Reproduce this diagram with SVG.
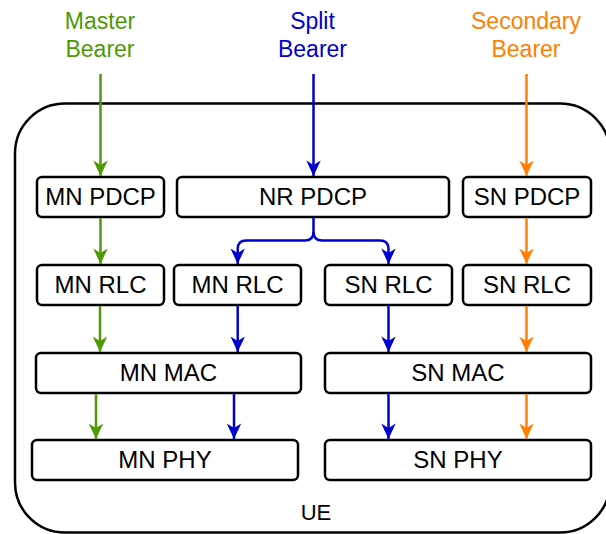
<svg xmlns="http://www.w3.org/2000/svg" width="606" height="534" viewBox="0 0 606 534">
<style>
.node rect{fill:#fff;stroke:#000;stroke-width:2.5}
.node text{font-family:"Liberation Sans",Arial,sans-serif;font-size:24px;text-anchor:middle;fill:#000}
.lbl{font-family:"Liberation Sans",Arial,sans-serif;font-size:23px;text-anchor:middle}
.c{fill:none;stroke-width:2.5}
.g{stroke:#4e9a06}
.b{stroke:#0000cc}
.o{stroke:#ff8000}
</style>
<defs>
<marker id="ag" markerUnits="userSpaceOnUse" markerWidth="20" markerHeight="20" viewBox="-16 -8 18 16" refX="0" refY="0" orient="auto"><path d="M0,0 L-14,-6.5 L-10,0 L-14,6.5 Z" fill="#4e9a06"/></marker>
<marker id="ab" markerUnits="userSpaceOnUse" markerWidth="20" markerHeight="20" viewBox="-16 -8 18 16" refX="0" refY="0" orient="auto"><path d="M0,0 L-14,-6.5 L-10,0 L-14,6.5 Z" fill="#0000cc"/></marker>
<marker id="ao" markerUnits="userSpaceOnUse" markerWidth="20" markerHeight="20" viewBox="-16 -8 18 16" refX="0" refY="0" orient="auto"><path d="M0,0 L-14,-6.5 L-10,0 L-14,6.5 Z" fill="#ff8000"/></marker>
</defs>
<rect width="606" height="534" fill="#fff"/>
<g id="ue">
<rect x="15" y="103.5" width="595" height="429" rx="50" fill="none" stroke="#000" stroke-width="2.5"/>
<text x="316" y="520" font-family="Liberation Sans,Arial,sans-serif" font-size="22" text-anchor="middle">UE</text>
</g>
<g id="labels">
<text class="lbl" fill="#4e9a06" x="100" y="29">Master</text>
<text class="lbl" fill="#4e9a06" x="100" y="57">Bearer</text>
<text class="lbl" fill="#0000cc" x="312.5" y="29">Split</text>
<text class="lbl" fill="#0000cc" x="312.5" y="57">Bearer</text>
<text class="lbl" fill="#ff8000" x="526" y="29">Secondary</text>
<text class="lbl" fill="#ff8000" x="526" y="57">Bearer</text>
</g>
<g id="mn-pdcp" class="node"><rect x="37" y="177" width="127" height="40" rx="5"/><text x="100.5" y="205">MN PDCP</text></g>
<g id="nr-pdcp" class="node"><rect x="177" y="177" width="272" height="40" rx="5"/><text x="313" y="205">NR PDCP</text></g>
<g id="sn-pdcp" class="node"><rect x="463" y="177" width="128" height="40" rx="5"/><text x="527" y="205">SN PDCP</text></g>
<g id="mn-rlc-1" class="node"><rect x="37" y="265" width="127" height="40" rx="5"/><text x="100.5" y="293">MN RLC</text></g>
<g id="mn-rlc-2" class="node"><rect x="174" y="265" width="127" height="40" rx="5"/><text x="237.5" y="293">MN RLC</text></g>
<g id="sn-rlc-1" class="node"><rect x="325" y="265" width="127" height="40" rx="5"/><text x="388.5" y="293">SN RLC</text></g>
<g id="sn-rlc-2" class="node"><rect x="463" y="265" width="128" height="40" rx="5"/><text x="527" y="293">SN RLC</text></g>
<g id="mn-mac" class="node"><rect x="36" y="353" width="265" height="40" rx="5"/><text x="168.5" y="381">MN MAC</text></g>
<g id="sn-mac" class="node"><rect x="325" y="353" width="266" height="40" rx="5"/><text x="458" y="381">SN MAC</text></g>
<g id="mn-phy" class="node"><rect x="32" y="440" width="266" height="40" rx="5"/><text x="165" y="468">MN PHY</text></g>
<g id="sn-phy" class="node"><rect x="325" y="440" width="266" height="40" rx="5"/><text x="458" y="468">SN PHY</text></g>
<g id="connectors">
<path class="c g" d="M100.5,74 V176" marker-end="url(#ag)"/>
<path class="c b" d="M313.5,74 V176" marker-end="url(#ab)"/>
<path class="c o" d="M526.5,74 V176" marker-end="url(#ao)"/>
<path class="c g" d="M100.5,218 V264" marker-end="url(#ag)"/>
<path class="c o" d="M526.5,218 V264" marker-end="url(#ao)"/>
<path class="c b" d="M313.5,218 V232 Q313.5,240.5 305,240.5 H246 Q237.7,240.5 237.7,249 V264" marker-end="url(#ab)"/>
<path class="c b" d="M313.5,232 Q313.5,240.5 322,240.5 H380 Q388.5,240.5 388.5,249 V264" marker-end="url(#ab)"/>
<path class="c g" d="M100,306 V352" marker-end="url(#ag)"/>
<path class="c b" d="M237.7,306 V352" marker-end="url(#ab)"/>
<path class="c b" d="M388.5,306 V352" marker-end="url(#ab)"/>
<path class="c o" d="M526.5,306 V352" marker-end="url(#ao)"/>
<path class="c g" d="M96,394 V439" marker-end="url(#ag)"/>
<path class="c b" d="M234,394 V439" marker-end="url(#ab)"/>
<path class="c b" d="M388.5,394 V439" marker-end="url(#ab)"/>
<path class="c o" d="M526.5,394 V439" marker-end="url(#ao)"/>
</g>
</svg>
